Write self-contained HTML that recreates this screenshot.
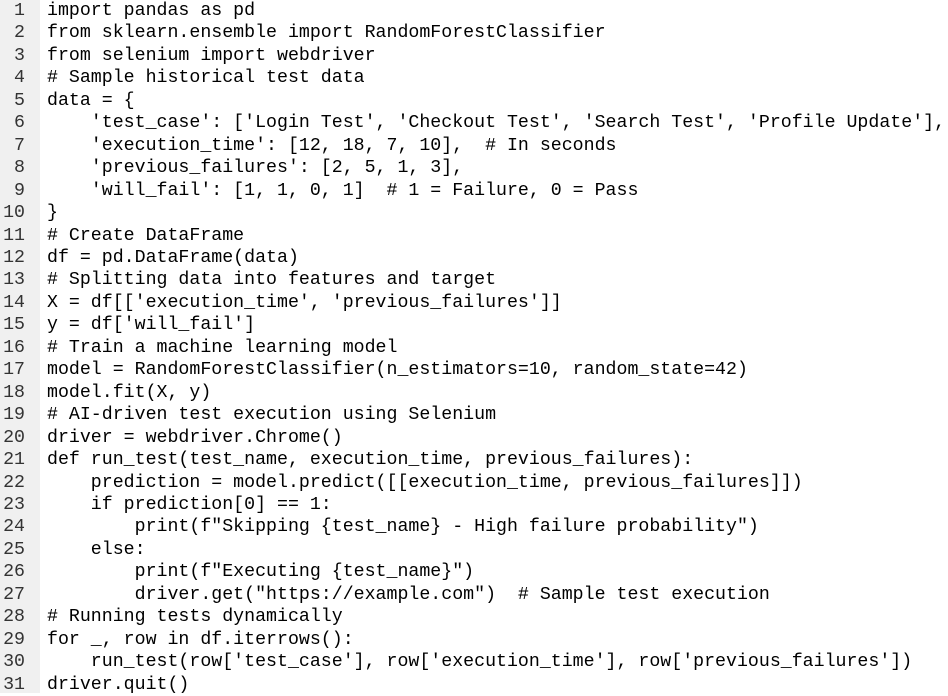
<!DOCTYPE html>
<html><head><meta charset="utf-8"><style>
html,body{margin:0;padding:0;background:#fff;width:948px;height:693px;overflow:hidden}
.g{position:absolute;left:0;top:0;width:40px;height:693px;background:#f0f0f0}
pre{margin:0;position:absolute;top:0;font-family:"Liberation Mono",monospace;font-size:18.25px;line-height:22.45px;color:#000}
.n{left:0;width:25px;text-align:right;color:#333}
.c{left:47px}
</style></head><body>
<div class="g"></div>
<pre class="n">1
2
3
4
5
6
7
8
9
10
11
12
13
14
15
16
17
18
19
20
21
22
23
24
25
26
27
28
29
30
31</pre>
<pre class="c">import pandas as pd
from sklearn.ensemble import RandomForestClassifier
from selenium import webdriver
# Sample historical test data
data = {
    'test_case': ['Login Test', 'Checkout Test', 'Search Test', 'Profile Update'],
    'execution_time': [12, 18, 7, 10],  # In seconds
    'previous_failures': [2, 5, 1, 3],
    'will_fail': [1, 1, 0, 1]  # 1 = Failure, 0 = Pass
}
# Create DataFrame
df = pd.DataFrame(data)
# Splitting data into features and target
X = df[['execution_time', 'previous_failures']]
y = df['will_fail']
# Train a machine learning model
model = RandomForestClassifier(n_estimators=10, random_state=42)
model.fit(X, y)
# AI-driven test execution using Selenium
driver = webdriver.Chrome()
def run_test(test_name, execution_time, previous_failures):
    prediction = model.predict([[execution_time, previous_failures]])
    if prediction[0] == 1:
        print(f"Skipping {test_name} - High failure probability")
    else:
        print(f"Executing {test_name}")
        driver.get("https://example.com")  # Sample test execution
# Running tests dynamically
for _, row in df.iterrows():
    run_test(row['test_case'], row['execution_time'], row['previous_failures'])
driver.quit()</pre>
</body></html>
